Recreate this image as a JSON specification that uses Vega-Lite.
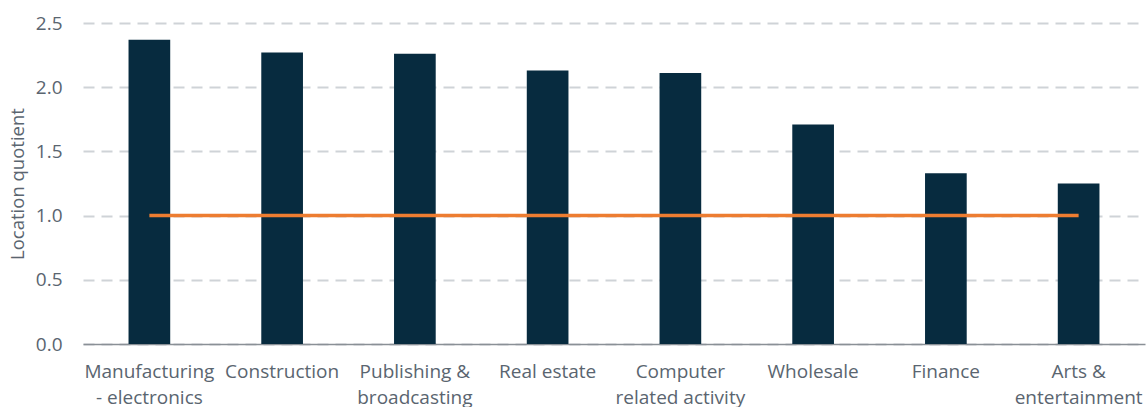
{
  "$schema": "https://vega.github.io/schema/vega-lite/v6.json",
  "width": 1062,
  "height": 321,
  "autosize": "none",
  "padding": {"left": 83, "top": 23, "right": 2, "bottom": 63},
  "background": "white",
  "config": {"view": {"stroke": null}, "font": "Open Sans"},
  "data": {"values": [
    {"sector": "Manufacturing|- electronics", "lq": 2.37, "benchmark": 1},
    {"sector": "Construction", "lq": 2.27, "benchmark": 1},
    {"sector": "Publishing &|broadcasting", "lq": 2.26, "benchmark": 1},
    {"sector": "Real estate", "lq": 2.13, "benchmark": 1},
    {"sector": "Computer|related activity", "lq": 2.11, "benchmark": 1},
    {"sector": "Wholesale", "lq": 1.71, "benchmark": 1},
    {"sector": "Finance", "lq": 1.33, "benchmark": 1},
    {"sector": "Arts &|entertainment", "lq": 1.25, "benchmark": 1}
  ]},
  "encoding": {
    "x": {"field": "sector", "type": "nominal", "sort": null,
      "scale": {"paddingInner": 0.686, "paddingOuter": 0.343},
      "axis": {"title": null, "labelAngle": 0, "ticks": false, "domainColor": "#8a9096", "domainWidth": 1.5,
        "labelExpr": "split(datum.label, '|')", "labelFontSize": 19, "labelColor": "#5a6570",
        "labelPadding": 18, "labelLineHeight": 26, "labelFont": "Open Sans"}}
  },
  "layer": [
    {"mark": {"type": "bar", "color": "#072b3f"},
     "encoding": {"y": {"field": "lq", "type": "quantitative",
       "scale": {"domain": [0, 2.5], "nice": false},
       "axis": {"title": "Location quotient", "titleFontSize": 18.5, "titleFontWeight": "normal", "titleColor": "#5a6570", "titlePadding": 8, "titleFont": "Open Sans",
         "values": [0, 0.5, 1, 1.5, 2, 2.5], "format": ".1f", "labelFontSize": 19, "labelColor": "#5a6570", "labelFont": "Open Sans",
         "domain": false, "ticks": false, "labelPadding": 21, "grid": true, "gridColor": "#cfd3d7", "gridWidth": 2, "gridDash": [11, 7]}}}},
    {"mark": {"type": "line", "color": "#ed7d31", "strokeWidth": 3.5},
     "encoding": {"y": {"field": "benchmark", "type": "quantitative"}}}
  ]
}
